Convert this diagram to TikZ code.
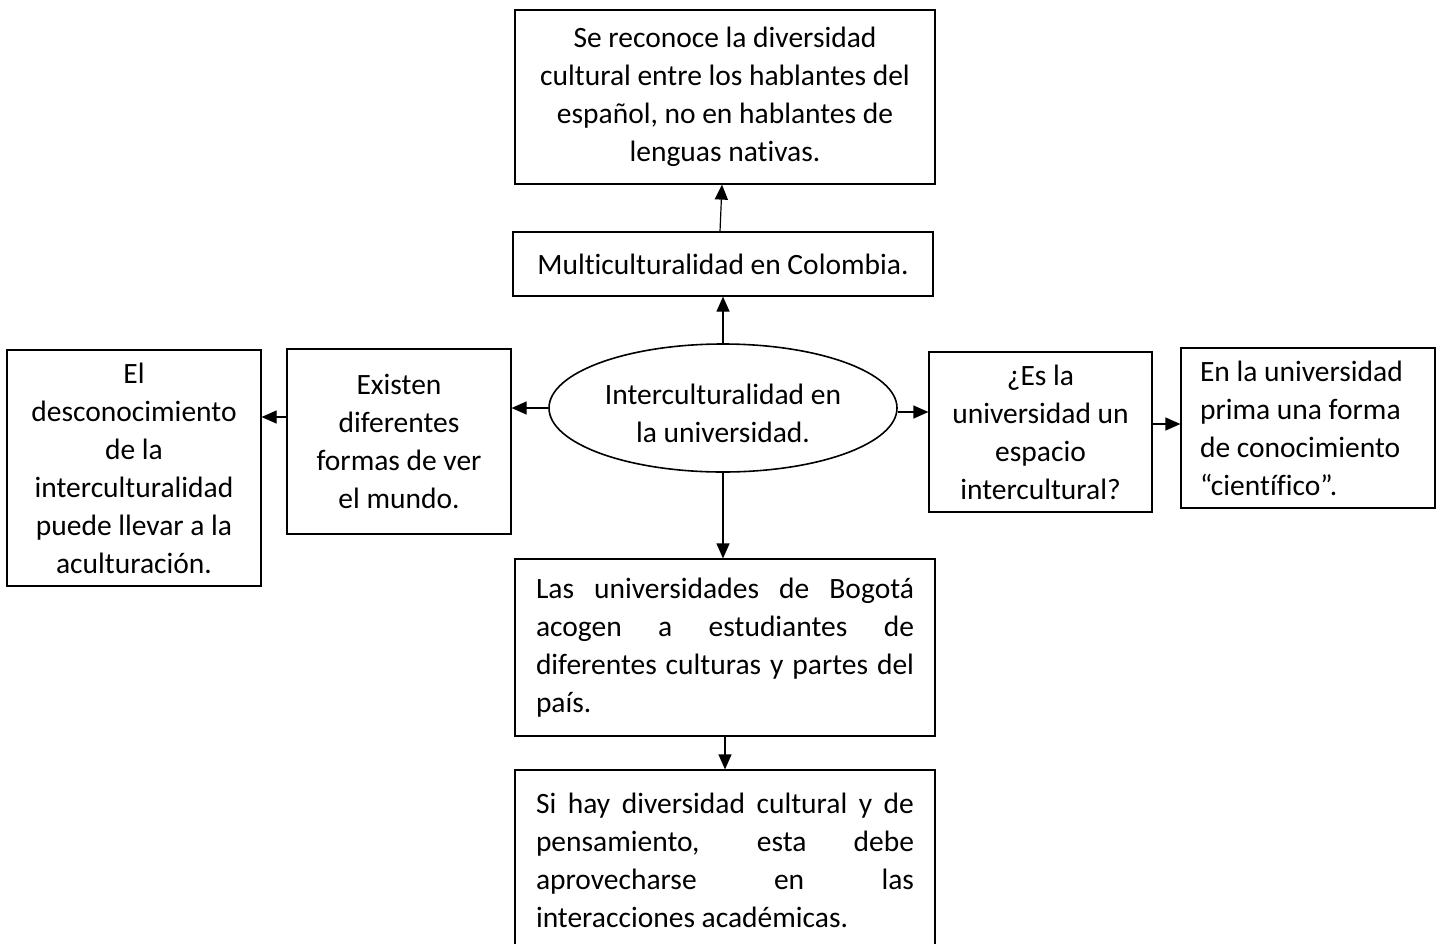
\documentclass[tikz,border=0pt]{standalone}
\usepackage{fontspec}
\setmainfont[Ligatures=NoCommon]{Carlito}
\usetikzlibrary{arrows.meta,shapes.geometric}
\newcommand\diafont{\fontsize{29.5}{38}\selectfont}
\begin{document}
\begin{tikzpicture}[x=1pt,y=-1pt,
  box/.style={draw, line width=1.2pt, rectangle, inner sep=0pt, align=center, font=\diafont},
  conn/.style={line width=1.2pt, -{Triangle[length=15pt,width=13pt]}}]
\useasboundingbox (0,0) rectangle (1440,943);
\fill[white] (0,0) rectangle (1440,943);

\node[box, minimum width=420pt, minimum height=174pt] (top) at (725,97)
  {\raisebox{-3pt}{}Se reconoce la diversidad\\cultural entre los hablantes del\\español, no en hablantes de\\lenguas nativas.};
\node[box, minimum width=420pt, minimum height=64pt] (multi) at (723,264)
  {Multiculturalidad en Colombia.};
\node[draw, ellipse, line width=1.6pt, inner sep=0pt, minimum width=348pt, minimum height=128pt] (ell) at (723,408) {};
\node[align=center, font=\diafont, inner sep=0pt] (elltext) at (723,413)
  {Interculturalidad en\\la universidad.};
\node[box, minimum width=224pt, minimum height=185pt] (exist) at (399,441.5)
  {Existen\\diferentes\\formas de ver\\el mundo.};
\node[box, minimum width=254pt, minimum height=236pt] (el) at (134,468)
  {El\\desconocimiento\\de la\\interculturalidad\\puede llevar a la\\aculturación.};
\node[box, minimum width=223pt, minimum height=160pt] (es) at (1040.5,432)
  {¿Es la\\universidad un\\espacio\\intercultural?};
\node[box, minimum width=254pt, minimum height=160pt, text width=216pt, align=flush left] (en) at (1308,428)
  {En la universidad\\prima una forma\\de conocimiento\\“científico”.};
\node[box, minimum width=420pt, minimum height=177pt, text width=378pt, align=justify] (las) at (725,647.5)
  {Las universidades de Bogotá\linebreak acogen a estudiantes de\linebreak diferentes culturas y partes del\linebreak país.};
\node[box, minimum width=420pt, minimum height=180pt, text width=378pt, align=justify] (si) at (725,860)
  {Si hay diversidad cultural y de\linebreak pensamiento, esta debe\linebreak aprovecharse en las\linebreak interacciones académicas.};

\draw[conn] ([xshift=-3pt]multi.north) -- ([xshift=-3pt]top.south);
\draw[conn] (ell.north) -- (multi.south);
\draw[conn] (ell.west) -- (ell.west -| exist.east);
\coordinate (a) at ([yshift=24.5pt]exist.west);
\draw[conn] (a) -- (a -| el.east);
\coordinate (b) at ([yshift=-4pt]ell.east);
\draw[conn] (b) -- (b -| es.west);
\coordinate (c) at ([yshift=8pt]es.east);
\draw[conn] (c) -- (c -| en.west);
\draw[conn] (ell.south) -- (ell.south |- las.north);
\draw[conn] (las.south) -- (si.north);
\end{tikzpicture}
\end{document}
